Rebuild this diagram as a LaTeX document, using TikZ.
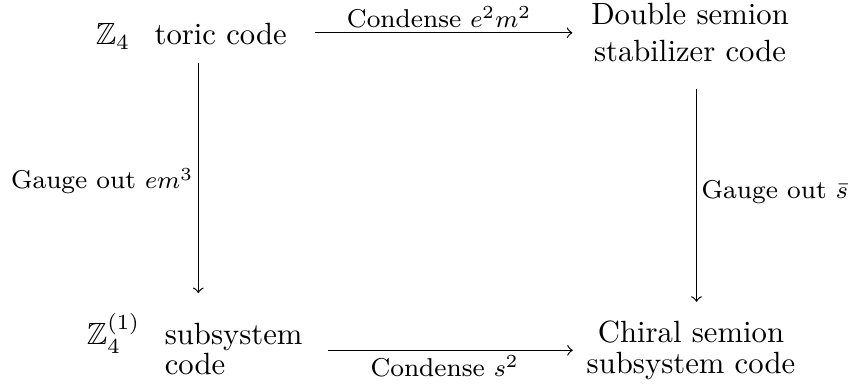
\documentclass[tikz,border=0pt]{standalone}
\usepackage{amssymb}

\begin{document}
\begin{tikzpicture}[phase/.style={align=center},
                    map/.style={->,thin},
                    map label/.style={midway,font=\fontsize{8.4}{10}\selectfont,inner sep=1.5pt}]
    \path[use as bounding box] (0,0) rectangle (9.721,4.488);

    \node[anchor=base west] (toric) at (0.973,3.973) {$\mathbb{Z}_4$\hspace{8pt}toric code};
    \node[phase] (ds) at (7.901,4.112) {Double semion\\stabilizer code};
    \node[anchor=base west] (sub) at (0.870,0.538) {$\mathbb{Z}_4^{(1)}$\hspace{8pt}{\def\arraystretch{0.765}\begin{tabular}[t]{@{}l@{}}subsystem\\code\end{tabular}}};
    \node[phase] (cs) at (7.912,0.477) {Chiral semion\\[-2.2pt]subsystem code};

    \draw[map,shorten <=5.5pt,shorten >=2.6pt] (toric.east |- ds.west) -- (ds.west) node[map label,above] {Condense $e^2m^2$};
    \draw[map,shorten <=4.9pt,shorten >=1pt] (sub.east |- cs.west) -- (cs.west) node[map label,below] {Condense $s^2$};
    \draw[map,shorten <=0.8pt,shorten >=2.9pt] ([xshift=0.08cm]toric.south) -- ([xshift=0.08cm]toric.south |- sub.north) node[map label,left] {Gauge out $em^3$};
    \draw[map,shorten <=5.2pt,shorten >=2.8pt] ([xshift=0.074cm]ds.south) -- ([xshift=0.074cm]ds.south |- cs.north) node[map label,right] {Gauge out $\bar{s}$};
\end{tikzpicture}
\end{document}
